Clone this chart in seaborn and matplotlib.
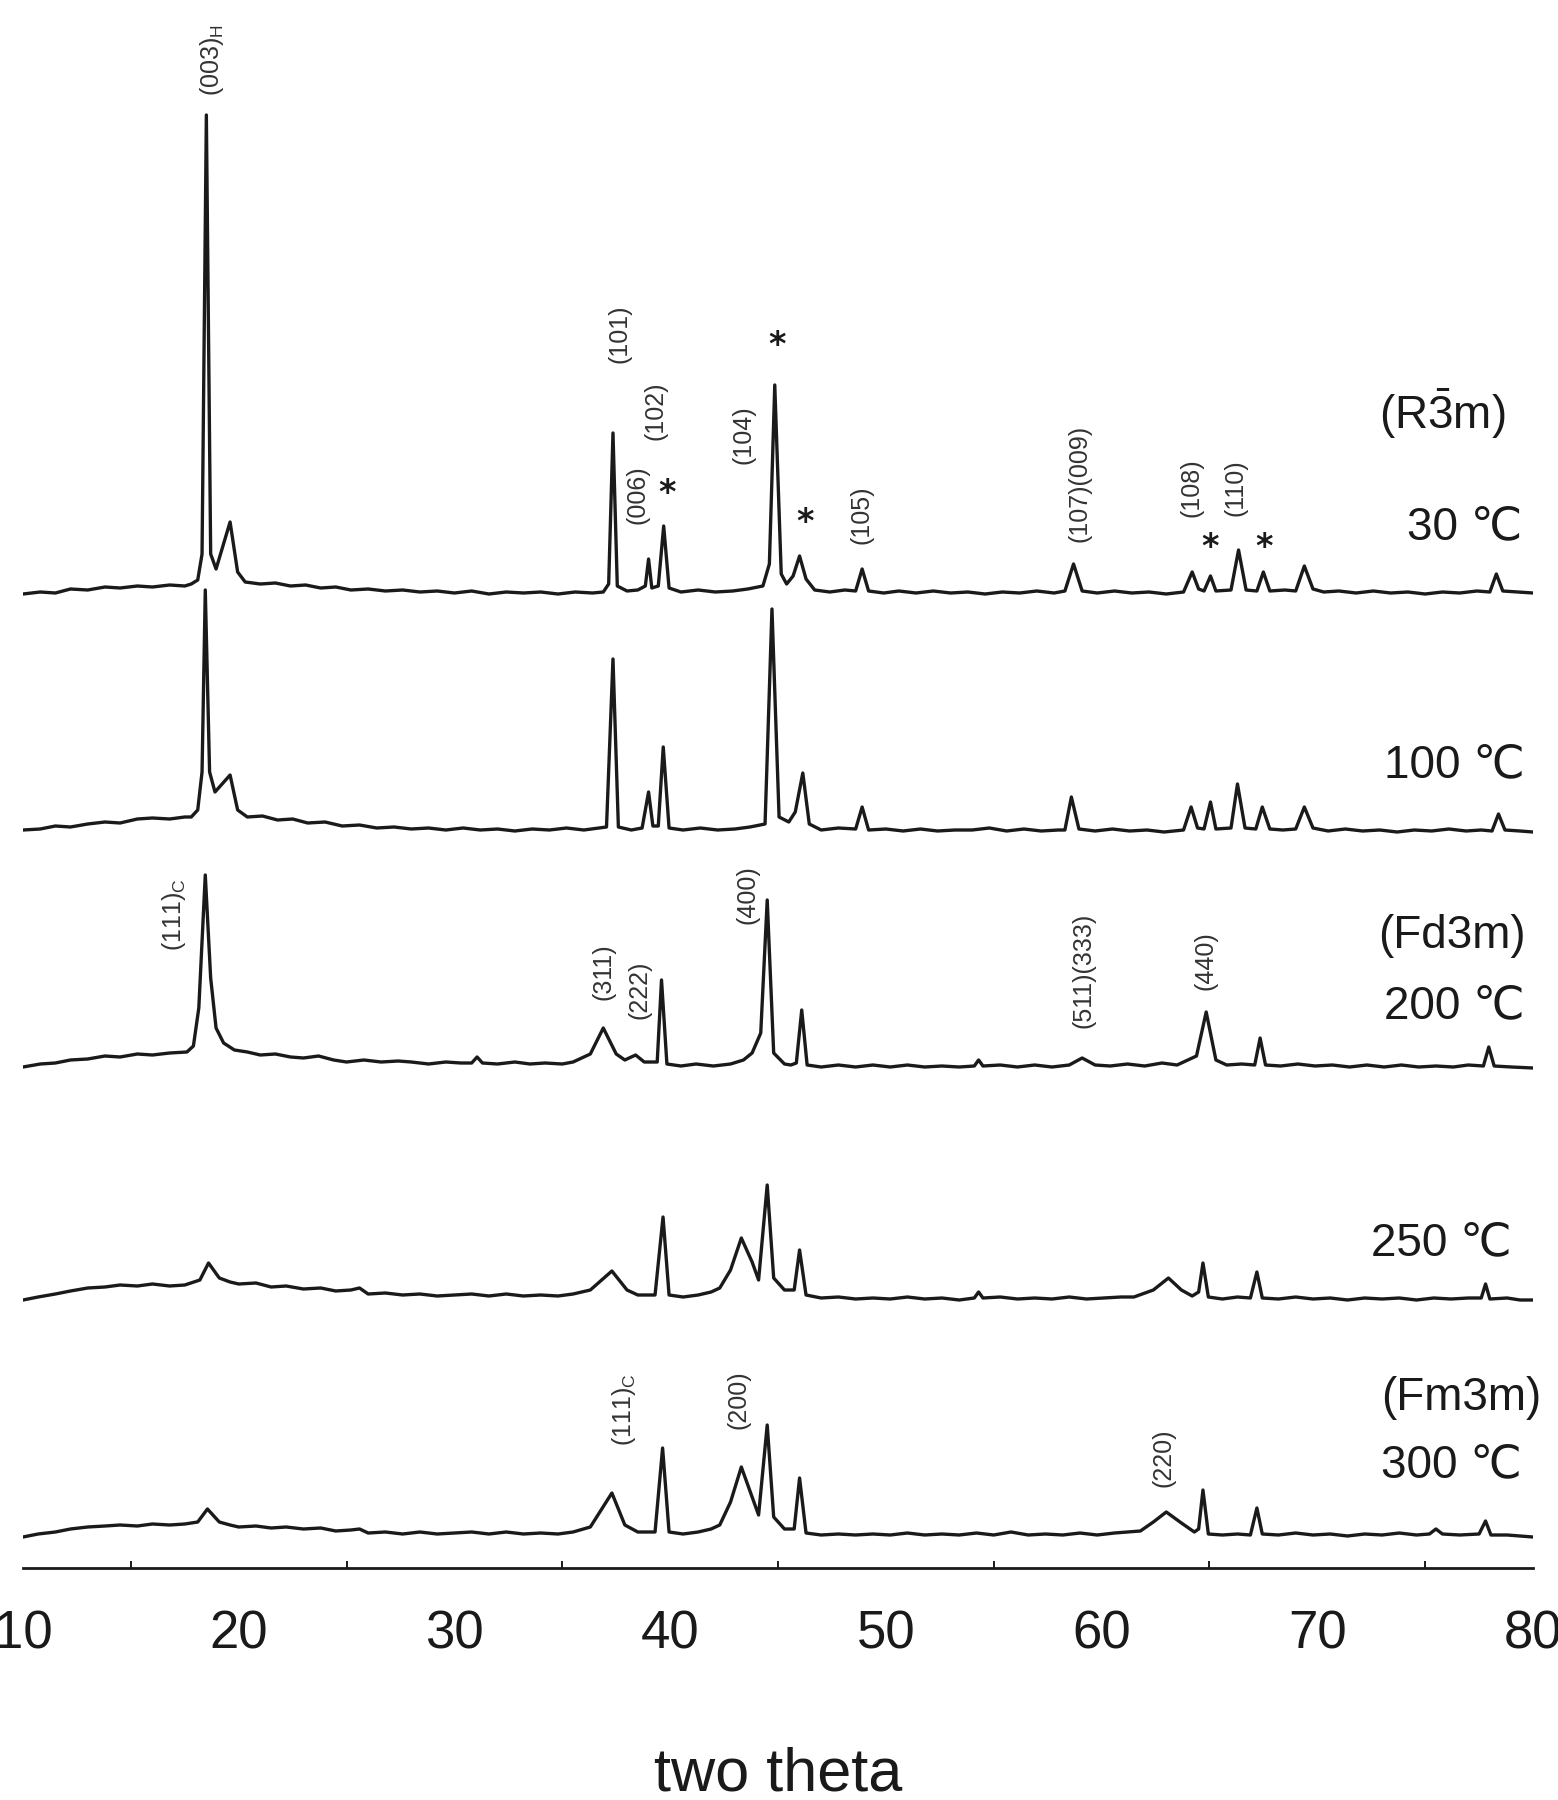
import matplotlib
matplotlib.use("Agg")
import matplotlib.pyplot as plt
import seaborn as sns

# XRD patterns: (two-theta in deg, intensity above the trace baseline)
pattern_30 = [(10, 0), (10.8, 2), (11.5, 1), (12.2, 5), (13, 4), (13.8, 7), (14.5, 6), (15.3, 8), (16, 7),
              (16.8, 9), (17.5, 8), (17.8, 10), (18.1, 14), (18.3, 40), (18.5, 479), (18.7, 40), (18.95, 25),
              (19.6, 72), (19.95, 22), (20.3, 12), (21, 10), (21.7, 11), (22.4, 8), (23.1, 9), (23.8, 6),
              (24.5, 7), (25.2, 4), (26, 5), (26.8, 3), (27.6, 4), (28.4, 2), (29.2, 3), (30, 1), (30.8, 3),
              (31.6, 0), (32.4, 2), (33.2, 1), (34, 2), (34.8, 0), (35.6, 2), (36.4, 1), (36.9, 2), (37.15, 10),
              (37.35, 161), (37.55, 8), (38.0, 3), (38.5, 4), (38.85, 8), (39.0, 35), (39.15, 6), (39.45, 8),
              (39.7, 68), (39.95, 6), (40.5, 2), (41.3, 4), (42.1, 2), (42.9, 3), (43.6, 5), (44.3, 8),
              (44.6, 30), (44.85, 209), (45.15, 20), (45.4, 10), (45.7, 18), (46.0, 38), (46.3, 15), (46.7, 4),
              (47.4, 2), (48.1, 4), (48.6, 3), (48.9, 25), (49.2, 3), (49.9, 1), (50.6, 3), (51.4, 1), (52.2, 3),
              (53, 1), (53.8, 2), (54.6, 0), (55.4, 2), (56.2, 1), (57, 3), (57.8, 1), (58.3, 3), (58.7, 30),
              (59.1, 3), (59.8, 1), (60.6, 3), (61.4, 1), (62.2, 2), (63, 0), (63.8, 2), (64.2, 22), (64.5, 5),
              (64.75, 3), (65.05, 18), (65.3, 3), (66.0, 4), (66.35, 44), (66.7, 4), (67.2, 3), (67.5, 22),
              (67.8, 3), (68.5, 4), (69.0, 3), (69.4, 28), (69.8, 5), (70.3, 2), (71, 3), (71.8, 1), (72.6, 3),
              (73.4, 1), (74.2, 2), (75, 0), (75.8, 2), (76.6, 1), (77.4, 3), (78.0, 2), (78.3, 20), (78.6, 3),
              (79.3, 2), (80, 1)]

pattern_100 = [(10, 2), (10.8, 3), (11.5, 6), (12.2, 5), (13, 8), (13.8, 10), (14.5, 9), (15.3, 13), (16, 14),
               (16.8, 13), (17.5, 15), (17.8, 15), (18.1, 22), (18.3, 60), (18.45, 242), (18.65, 60), (18.9, 40),
               (19.6, 57), (19.95, 22), (20.4, 15), (21.1, 16), (21.8, 12), (22.5, 13), (23.2, 9), (24, 10),
               (24.8, 6), (25.6, 7), (26.4, 4), (27.2, 5), (28, 3), (28.8, 4), (29.6, 2), (30.4, 4), (31.2, 2),
               (32, 3), (32.8, 1), (33.6, 3), (34.4, 2), (35.2, 4), (36, 2), (36.7, 4), (37.05, 5), (37.35, 173),
               (37.6, 5), (38.2, 2), (38.7, 4), (39.0, 40), (39.2, 6), (39.45, 6), (39.68, 85), (39.95, 4),
               (40.6, 2), (41.4, 4), (42.2, 2), (43, 3), (43.7, 5), (44.4, 8), (44.72, 223), (45.05, 15),
               (45.5, 10), (45.8, 20), (46.15, 59), (46.45, 8), (47, 2), (47.8, 4), (48.6, 3), (48.9, 25),
               (49.2, 2), (50, 3), (50.8, 1), (51.6, 3), (52.4, 1), (53.2, 2), (54, 2), (54.8, 4), (55.6, 1),
               (56.4, 3), (57.2, 1), (58, 2), (58.3, 2), (58.6, 35), (58.95, 3), (59.7, 1), (60.5, 3), (61.3, 1),
               (62.1, 2), (62.9, 0), (63.8, 2), (64.15, 25), (64.45, 4), (64.75, 3), (65.05, 30), (65.3, 3),
               (66.0, 4), (66.3, 48), (66.65, 4), (67.15, 3), (67.45, 25), (67.8, 3), (68.4, 2), (69.0, 3),
               (69.4, 25), (69.8, 4), (70.5, 1), (71.3, 3), (72.1, 1), (72.9, 2), (73.7, 0), (74.5, 2), (75.3, 1),
               (76.1, 3), (76.9, 1), (77.6, 2), (78.1, 1), (78.4, 18), (78.7, 2), (79.4, 1), (80, 0)]

pattern_200 = [(10, 1), (10.8, 4), (11.5, 5), (12.2, 8), (13, 9), (13.8, 12), (14.5, 11), (15.3, 14), (16, 13),
               (16.8, 15), (17.6, 16), (17.9, 22), (18.15, 60), (18.45, 193), (18.7, 90), (18.95, 40), (19.3, 25),
               (19.8, 18), (20.4, 16), (21, 13), (21.7, 14), (22.4, 11), (23, 10), (23.7, 12), (24.4, 8), (25, 6),
               (25.8, 8), (26.6, 6), (27.4, 7), (28, 6), (28.8, 4), (29.6, 6), (30.3, 5), (30.8, 5), (31.05, 11),
               (31.3, 5), (32, 4), (32.8, 6), (33.5, 4), (34.2, 5), (35, 4), (35.5, 6), (36.3, 14), (36.9, 40),
               (37.5, 14), (37.9, 8), (38.4, 13), (38.8, 6), (39.4, 6), (39.6, 88), (39.85, 4), (40.5, 2),
               (41.2, 4), (42, 2), (42.8, 4), (43.4, 8), (43.8, 15), (44.2, 35), (44.5, 168), (44.8, 15),
               (45.3, 4), (45.6, 3), (45.85, 5), (46.1, 58), (46.35, 3), (47, 1), (47.8, 3), (48.6, 1), (49.4, 3),
               (50.2, 1), (51, 3), (51.8, 1), (52.6, 2), (53.4, 1), (54.1, 2), (54.3, 8), (54.5, 2), (55.3, 3),
               (56.1, 1), (56.9, 3), (57.7, 1), (58.5, 3), (59.1, 10), (59.7, 3), (60.4, 2), (61.2, 4), (62, 2),
               (62.8, 5), (63.5, 3), (64.4, 12), (64.85, 56), (65.3, 8), (65.8, 3), (66.5, 4), (67.1, 3),
               (67.35, 30), (67.6, 3), (68.3, 2), (69.1, 4), (69.9, 2), (70.7, 3), (71.5, 1), (72.3, 3), (73.1, 1),
               (73.9, 3), (74.7, 1), (75.5, 2), (76.3, 1), (77, 3), (77.7, 2), (77.95, 21), (78.2, 2), (79, 1),
               (80, 0)]

pattern_250 = [(10, 0), (10.7, 3), (11.5, 6), (12.2, 9), (13, 12), (13.8, 13), (14.5, 15), (15.3, 14), (16, 16),
               (16.8, 14), (17.5, 15), (18.2, 20), (18.6, 37), (19.1, 22), (19.6, 18), (20, 16), (20.8, 17),
               (21.5, 13), (22.2, 14), (23, 11), (23.8, 12), (24.5, 9), (25.2, 10), (25.6, 12), (26, 6), (26.8, 7),
               (27.6, 5), (28.4, 6), (29.2, 4), (30, 5), (30.8, 6), (31.6, 4), (32.4, 6), (33.2, 4), (34, 5),
               (34.8, 4), (35.5, 6), (36.3, 10), (37.3, 29), (38.0, 10), (38.5, 5), (39.3, 5), (39.67, 83),
               (39.95, 5), (40.6, 3), (41.3, 5), (41.9, 8), (42.3, 12), (42.8, 30), (43.3, 62), (43.8, 38),
               (44.1, 20), (44.5, 115), (44.8, 22), (45.3, 10), (45.75, 10), (46.0, 50), (46.3, 5), (47, 2),
               (47.8, 3), (48.6, 1), (49.4, 2), (50.2, 1), (51, 3), (51.8, 1), (52.6, 2), (53.4, 0), (54.1, 2),
               (54.3, 8), (54.5, 2), (55.3, 3), (56.1, 1), (56.9, 2), (57.7, 1), (58.5, 3), (59.3, 1), (60.1, 2),
               (60.9, 3), (61.5, 3), (62.4, 10), (63.1, 22), (63.7, 10), (64.2, 4), (64.5, 8), (64.7, 37),
               (64.95, 3), (65.6, 1), (66.3, 3), (66.9, 2), (67.2, 28), (67.45, 2), (68.2, 1), (69, 3), (69.8, 1),
               (70.6, 2), (71.4, 0), (72.2, 2), (73, 1), (73.8, 2), (74.6, 0), (75.4, 2), (76.2, 1), (77, 2),
               (77.6, 2), (77.8, 16), (78.0, 1), (78.8, 2), (79.4, 0), (80, 0)]

pattern_300 = [(10, 0), (10.7, 3), (11.5, 5), (12.2, 8), (13, 10), (13.8, 11), (14.5, 12), (15.3, 11), (16, 13),
               (16.8, 12), (17.5, 13), (18.1, 15), (18.55, 28), (19.1, 15), (19.6, 12), (20, 10), (20.8, 11),
               (21.5, 9), (22.2, 10), (23, 8), (23.8, 9), (24.5, 6), (25.2, 7), (25.6, 8), (26, 4), (26.8, 5),
               (27.6, 3), (28.4, 5), (29.2, 3), (30, 4), (30.8, 5), (31.6, 3), (32.4, 5), (33.2, 3), (34, 4),
               (34.8, 3), (35.5, 5), (36.3, 10), (37.3, 44), (37.9, 12), (38.5, 5), (39.3, 5), (39.65, 89),
               (39.95, 5), (40.6, 3), (41.3, 5), (41.9, 8), (42.3, 12), (42.8, 35), (43.3, 70), (43.8, 40),
               (44.1, 22), (44.5, 112), (44.8, 20), (45.3, 8), (45.75, 8), (46.0, 59), (46.3, 4), (47, 2),
               (47.8, 3), (48.6, 2), (49.4, 3), (50.2, 2), (51, 4), (51.8, 2), (52.6, 3), (53.4, 2), (54.2, 4),
               (55, 2), (55.8, 5), (56.6, 2), (57.4, 3), (58.2, 2), (59, 4), (59.8, 2), (60.6, 4), (61.2, 5),
               (61.8, 6), (62.4, 15), (63.0, 25), (63.7, 14), (64.3, 5), (64.5, 8), (64.7, 47), (64.95, 3),
               (65.6, 2), (66.3, 3), (66.9, 2), (67.2, 29), (67.45, 3), (68.2, 2), (69, 4), (69.8, 2), (70.6, 3),
               (71.4, 1), (72.2, 3), (73, 2), (73.8, 4), (74.6, 2), (75.2, 3), (75.5, 8), (75.8, 3), (76.6, 2),
               (77.5, 3), (77.8, 16), (78.05, 2), (78.8, 2), (79.4, 1), (80, 0)]

# vertical offset of each trace (same units as intensity)
traces = [(pattern_30, 974), (pattern_100, 736), (pattern_200, 500), (pattern_250, 268), (pattern_300, 31)]

# right-hand labels: text, two-theta, height
side_labels = [("(R$\\mathregular{\\bar{3}}$m)", 75.78, 1154), ("30 \u2103", 76.85, 1041),
               ("100 \u2103", 76.34, 803), ("(Fd3m)", 76.25, 632), ("200 \u2103", 76.34, 562),
               ("250 \u2103", 75.74, 325), ("(Fm3m)", 76.67, 170), ("300 \u2103", 76.2, 103)]

# reflection indices (rotated)
hkl_labels = [("(003)$_\\mathregular{H}$", 18.76, 1508), ("(101)", 37.63, 1234), ("(006)", 38.47, 1073),
              ("(102)", 39.3, 1157), ("(104)", 43.4, 1133), ("(105)", 48.85, 1053),
              ("(107)(009)", 58.96, 1085), ("(108)", 64.15, 1080), ("(110)", 66.2, 1080),
              ("(111)$_\\mathregular{C}$", 17.0, 653), ("(311)", 36.9, 596), ("(222)", 38.56, 578),
              ("(400)", 43.6, 673), ("(511)(333)", 59.15, 598), ("(440)", 64.8, 607),
              ("(111)$_\\mathregular{C}$", 37.85, 158), ("(200)", 43.15, 168), ("(220)", 62.85, 110)]

star_pos = [(39.85, 1075), (44.95, 1223), (46.25, 1046), (65.05, 1021), (67.55, 1020)]

sns.set_theme(style="white")
plt.rcParams['font.family'] = ['Liberation Sans', 'DejaVu Sans']
plt.rcParams['mathtext.fontset'] = 'custom'
plt.rcParams['mathtext.rm'] = 'Liberation Sans'

fig = plt.figure(figsize=(15.58, 18), dpi=100)
ax = fig.add_axes([23 / 1558, 232 / 1800, 1510 / 1558, 1568 / 1800])

for pattern, off in traces:
    th = [p[0] for p in pattern]
    it = [p[1] + off for p in pattern]
    sns.lineplot(x=th, y=it, ax=ax, color="#1a1a1a", lw=2.4, estimator=None, sort=False)

ax.set_xlim(10, 80)
ax.set_ylim(0, 1568)
for s in ["left", "right", "top"]:
    ax.spines[s].set_visible(False)
ax.spines["bottom"].set_color("#1a1a1a")
ax.spines["bottom"].set_linewidth(2)
ax.set_yticks([])
ax.set_xticks(range(10, 81, 10))
ax.set_xticks(range(15, 80, 10), minor=True)
ax.tick_params(axis="x", which="major", direction="in", length=12, width=1.6,
               labelsize=38, pad=30, colors="#1a1a1a")
ax.tick_params(axis="x", which="minor", direction="in", length=5, width=1.4, bottom=True,
               colors="#1a1a1a")
ax.set_facecolor("white")

fig.text(0.4994, 25 / 1800, "two theta", ha="center", va="center", fontsize=44, color="#1a1a1a")

for txt, x, y in side_labels:
    ax.text(x, y, txt, ha="center", va="center", fontsize=33, color="#1a1a1a")

for txt, x, y in hkl_labels:
    ax.text(x, y, txt, ha="center", va="center", rotation=90, fontsize=18, color="#333333")

for x, y in star_pos:
    ax.text(x, y, "*", ha="center", va="center", fontsize=24, fontweight="bold", color="#1a1a1a",
            family=['DejaVu Sans'])

fig.savefig("out.png", dpi=100, facecolor="white")
